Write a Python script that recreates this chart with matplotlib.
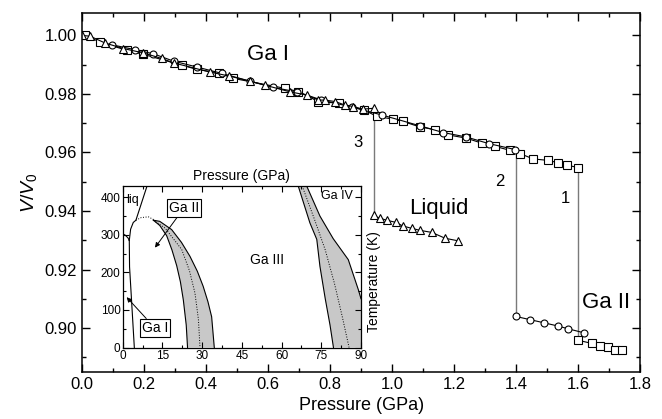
import numpy as np
import matplotlib
matplotlib.use('Agg')
from matplotlib import pyplot as plt
from matplotlib.ticker import MultipleLocator

plt.rcParams['font.family'] = ['Liberation Sans', 'DejaVu Sans']
plt.rcParams['mathtext.fontset'] = 'custom'
plt.rcParams['mathtext.it'] = 'Liberation Sans:italic'
plt.rcParams['mathtext.rm'] = 'Liberation Sans'

# run 1 (squares)
sq_p_gaI = [0.010, 0.058, 0.144, 0.198, 0.322, 0.370, 0.440, 0.488, 0.655, 0.698, 0.762,
            0.830, 0.910, 0.951, 1.003, 1.035, 1.090, 1.139, 1.181, 1.239, 1.289, 1.332,
            1.381, 1.413, 1.455, 1.503, 1.535, 1.564, 1.601]
sq_v_gaI = [1.0000, 0.9977, 0.9949, 0.9935, 0.9898, 0.9884, 0.9872, 0.9853, 0.9819, 0.9808, 0.9774,
            0.9768, 0.9745, 0.9723, 0.9714, 0.9706, 0.9687, 0.9678, 0.9660, 0.9649, 0.9632, 0.9621,
            0.9607, 0.9596, 0.9578, 0.9573, 0.9565, 0.9557, 0.9548]
sq_p_gaII = [1.598, 1.644, 1.669, 1.695, 1.719, 1.743]
sq_v_gaII = [0.8959, 0.8948, 0.8939, 0.8935, 0.8926, 0.8924]

# run 2 (circles)
ci_p_gaI = [0.096, 0.171, 0.230, 0.295, 0.370, 0.451, 0.540, 0.616, 0.694, 0.770, 0.870,
            0.967, 1.090, 1.165, 1.239, 1.313, 1.397]
ci_v_gaI = [0.9968, 0.9951, 0.9937, 0.9912, 0.9892, 0.9870, 0.9844, 0.9822, 0.9807, 0.9780, 0.9755,
            0.9728, 0.9691, 0.9668, 0.9653, 0.9630, 0.9610]
ci_p_gaII = [1.399, 1.445, 1.491, 1.536, 1.567, 1.619]
ci_v_gaII = [0.9040, 0.9029, 0.9018, 0.9007, 0.8998, 0.8984]

# run 3 (triangles)
tr_p_gaI = [0.000, 0.026, 0.074, 0.133, 0.198, 0.257, 0.295, 0.411, 0.475, 0.540, 0.590, 0.671,
            0.725, 0.762, 0.784, 0.816, 0.848, 0.874, 0.906, 0.940]
tr_v_gaI = [1.0000, 0.9997, 0.9974, 0.9955, 0.9940, 0.9921, 0.9906, 0.9875, 0.9861, 0.9844, 0.9830,
            0.9807, 0.9796, 0.9779, 0.9779, 0.9774, 0.9762, 0.9757, 0.9748, 0.9751]
tr_p_liq = [0.940, 0.961, 0.985, 1.013, 1.034, 1.063, 1.090, 1.128, 1.171, 1.214]
tr_v_liq = [0.9385, 0.9375, 0.9368, 0.9361, 0.9349, 0.9341, 0.9334, 0.9327, 0.9307, 0.9298]

# transitions (pressure, V before, V after, label)
jump_p = [1.60, 1.40, 0.94]
jump_v_top = [0.9548, 0.9610, 0.9751]
jump_v_bot = [0.8959, 0.9040, 0.9385]
jump_lbl = ['1', '2', '3']
jump_lbl_p = [1.558, 1.348, 0.890]
jump_lbl_v = [0.9442, 0.9500, 0.9634]

# inset phase diagram (P in GPa, T in K)
gaI_melt_p = [0.0, 1.0, 2.0, 2.5]
gaI_melt_t = [303, 299, 292, 285]
gaI_gaII_p = [2.5, 2.6, 3.4, 4.4]
gaI_gaII_t = [285, 215, 120, 0]
gaII_melt_p = [2.5, 3.0, 4.0, 5.0, 9.2]
gaII_melt_t = [285, 315, 333, 339, 430]
dome_p = [5.0, 7.0, 9.7, 11.6, 12.5]
dome_t = [339, 346, 348, 341, 337]

b1_left_p = [11.6, 14.0, 16.6, 18.6, 20.4, 21.8, 22.9, 24.0, 24.5]
b1_left_t = [339, 325, 298, 260, 218, 175, 127, 60, 0]
b1_mid_p = [11.6, 16.0, 22.3, 25.2, 27.3, 28.6, 29.2]
b1_mid_t = [339, 318, 261, 205, 145, 75, 0]
b1_right_p = [11.6, 14.0, 18.5, 22.2, 25.4, 28.2, 30.4, 32.2, 33.6, 34.6]
b1_right_t = [339, 336, 314, 280, 243, 203, 163, 122, 82, 0]

b2_left_p = [66.3, 70.7, 73.3, 74.5, 76.5, 78.3, 79.6]
b2_left_t = [430, 332, 288, 216, 130, 60, 0]
b2_mid_p = [67.8, 72.5, 76.5, 80.0, 83.0, 85.5]
b2_mid_t = [430, 340, 260, 170, 80, 0]
b2_right_p = [69.5, 74.5, 79.5, 85.2, 89.0, 90.0]
b2_right_t = [430, 350, 290, 234, 154, 130]

fig = plt.figure(figsize=(6.62, 4.19), dpi=100)
ax = fig.add_axes([0.124, 0.112, 0.843, 0.856])

lw = 0.8
ms_kw = dict(color='k', mfc='white', mec='k', mew=0.8, lw=lw)
for p, vt, vb in zip(jump_p, jump_v_top, jump_v_bot):
    ax.plot([p, p], [vt, vb], color='#7a7a7a', lw=1.0, zorder=1)

ax.plot(sq_p_gaI, sq_v_gaI, marker='s', ms=5.5, **ms_kw)
ax.plot(sq_p_gaII, sq_v_gaII, marker='s', ms=5.5, **ms_kw)
ax.plot(ci_p_gaI, ci_v_gaI, marker='o', ms=5, **ms_kw)
ax.plot(ci_p_gaII, ci_v_gaII, marker='o', ms=5, **ms_kw)
ax.plot(tr_p_gaI, tr_v_gaI, marker='^', ms=6, **ms_kw)
ax.plot(tr_p_liq, tr_v_liq, marker='^', ms=6, **ms_kw)

for t, x, y in zip(jump_lbl, jump_lbl_p, jump_lbl_v):
    ax.text(x, y, t, fontsize=12, ha='center', va='center')
ax.text(0.60, 0.9935, 'Ga I', fontsize=16, ha='center', va='center')
ax.text(1.150, 0.9409, 'Liquid', fontsize=16, ha='center', va='center')
ax.text(1.690, 0.9087, 'Ga II', fontsize=16, ha='center', va='center')

ax.set_xlim(0, 1.8)
ax.set_ylim(0.885, 1.0075)
ax.xaxis.set_major_locator(MultipleLocator(0.2))
ax.xaxis.set_minor_locator(MultipleLocator(0.1))
ax.yaxis.set_major_locator(MultipleLocator(0.02))
ax.yaxis.set_minor_locator(MultipleLocator(0.01))
ax.xaxis.set_major_formatter(matplotlib.ticker.FormatStrFormatter('%.1f'))
ax.yaxis.set_major_formatter(matplotlib.ticker.FormatStrFormatter('%.2f'))
ax.tick_params(which='both', direction='in', top=True, right=True, width=1.0, labelsize=12)
ax.tick_params(which='major', length=6)
ax.tick_params(which='minor', length=3)
for s in ax.spines.values():
    s.set_linewidth(1.1)
ax.set_xlabel('Pressure (GPa)', fontsize=13)
ax.set_ylabel(r'$V/V_0$', fontsize=14)

# inset
ins = fig.add_axes([0.1853, 0.1706, 0.360, 0.3854])
ins.fill(np.concatenate([b1_left_p, b1_right_p[::-1]]),
         np.concatenate([b1_left_t, b1_right_t[::-1]]), fc='#c8c8c8', ec='None')
ins.fill(np.concatenate([b2_left_p, [90.0], b2_right_p[::-1]]),
         np.concatenate([b2_left_t, [0], b2_right_t[::-1]]), fc='#c8c8c8', ec='None')
for px, ty in [(b1_left_p, b1_left_t), (b1_right_p, b1_right_t),
               (b2_left_p, b2_left_t), (b2_right_p, b2_right_t),
               (gaI_melt_p, gaI_melt_t), (gaI_gaII_p, gaI_gaII_t), (gaII_melt_p, gaII_melt_t)]:
    ins.plot(px, ty, color='k', lw=0.8)
for px, ty in [(b1_mid_p, b1_mid_t), (b2_mid_p, b2_mid_t), (dome_p, dome_t)]:
    ins.plot(px, ty, color='k', lw=0.7, ls=':')

ins.text(1.3, 392, 'liq', fontsize=9, ha='left', va='center')
ins.text(54.4, 234, 'Ga III', fontsize=10, ha='center', va='center')
ins.text(81, 403, 'Ga IV', fontsize=9, ha='center', va='center')
box = dict(boxstyle='square,pad=0.15', fc='white', ec='k', lw=0.8)
arr = dict(arrowstyle='-|>', color='k', lw=0.7, mutation_scale=7, shrinkA=0, shrinkB=0)
ins.annotate('Ga II', xy=(12.2, 266), xytext=(23.2, 372), fontsize=10,
             ha='center', va='center', bbox=box, arrowprops=arr)
ins.annotate('Ga I', xy=(1.5, 134), xytext=(12.2, 52), fontsize=10,
             ha='center', va='center', bbox=box, arrowprops=arr)

ins.set_xlim(0, 90)
ins.set_ylim(0, 430)
ins.xaxis.set_major_locator(MultipleLocator(15))
ins.xaxis.set_minor_locator(MultipleLocator(7.5))
ins.yaxis.set_major_locator(MultipleLocator(100))
ins.yaxis.set_minor_locator(MultipleLocator(50))
ins.tick_params(which='both', direction='in', top=True, right=True, width=0.8,
                labelsize=8.5, pad=1.5)
ins.tick_params(which='major', length=4)
ins.tick_params(which='minor', length=2)
for s in ins.spines.values():
    s.set_linewidth(0.9)
ins.xaxis.set_label_position('top')
ins.yaxis.set_label_position('right')
ins.set_xlabel('Pressure (GPa)', fontsize=10, labelpad=4)
ins.set_ylabel('Temperature (K)', fontsize=10)
ins.yaxis.set_label_coords(1.025, 0.41)

fig.savefig('out.png', dpi=100)
